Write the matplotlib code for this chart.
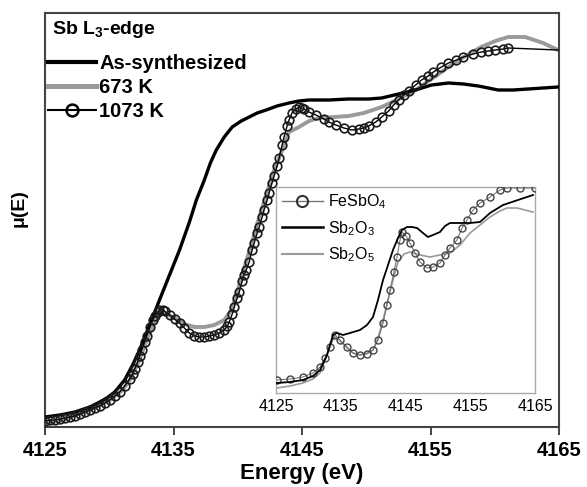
import matplotlib
matplotlib.use("Agg")
import matplotlib.pyplot as plt
from matplotlib.lines import Line2D

plt.rcParams['font.family'] = ['Liberation Sans', 'DejaVu Sans']
plt.rcParams['mathtext.fontset'] = 'custom'
plt.rcParams['mathtext.rm'] = 'Liberation Sans'
plt.rcParams['mathtext.it'] = 'Liberation Sans:italic'
plt.rcParams['mathtext.bf'] = 'Liberation Sans:bold'

# ---------------- main panel data (energy in eV, mu in arb. units) ----------------
e_as = [4125.00, 4126.16, 4127.33, 4128.49, 4129.26, 4129.81, 4130.43, 4131.20, 4131.82,
        4132.36, 4133.14, 4133.91, 4134.69, 4135.47, 4136.24, 4136.78, 4137.40, 4137.87,
        4138.33, 4138.95, 4139.57, 4140.27, 4140.89, 4141.51, 4142.21, 4143.06, 4143.99,
        4144.77, 4145.54, 4147.09, 4148.64, 4150.19, 4151.20, 4152.52, 4153.84, 4155.08,
        4156.40, 4157.56, 4158.72, 4160.27, 4161.43, 4162.60, 4163.76, 4164.92]
mu_as = [0.10, 0.12, 0.15, 0.20, 0.25, 0.29, 0.35, 0.47, 0.62,
         0.77, 1.02, 1.27, 1.52, 1.77, 2.05, 2.27, 2.47, 2.64,
         2.77, 2.90, 3.00, 3.06, 3.10, 3.14, 3.17, 3.21, 3.24,
         3.26, 3.27, 3.27, 3.28, 3.28, 3.29, 3.33, 3.37, 3.42,
         3.44, 3.43, 3.41, 3.37, 3.37, 3.38, 3.39, 3.40]

e_673 = [4125.00, 4126.16, 4127.17, 4128.49, 4129.26, 4130.04, 4131.05, 4131.59, 4132.36,
         4132.91, 4133.37, 4133.76, 4134.07, 4134.46, 4135.08, 4135.85, 4136.63, 4137.40,
         4138.18, 4138.95, 4139.50, 4139.96, 4140.50, 4141.05, 4141.43, 4141.90, 4142.29,
         4142.75, 4143.22, 4143.99, 4144.77, 4145.54, 4146.32, 4147.48, 4148.64, 4149.81,
         4151.20, 4152.52, 4153.84, 4155.08, 4156.40, 4157.71, 4158.95, 4160.04, 4161.05,
         4162.36, 4163.76, 4164.92]
mu_673 = [0.04, 0.06, 0.11, 0.17, 0.22, 0.27, 0.37, 0.47, 0.67,
          0.87, 1.00, 1.12, 1.15, 1.13, 1.09, 1.03, 1.00, 1.00,
          1.02, 1.07, 1.17, 1.35, 1.59, 1.82, 2.00, 2.19, 2.35,
          2.54, 2.69, 2.95, 3.00, 3.06, 3.09, 3.10, 3.11, 3.14,
          3.20, 3.28, 3.37, 3.48, 3.60, 3.71, 3.80, 3.86, 3.90,
          3.90, 3.84, 3.77]

e_1073 = [4125.00, 4125.39, 4125.78, 4126.16, 4126.55, 4126.94, 4127.33, 4127.71, 4128.10,
          4128.49, 4128.88, 4129.26, 4129.65, 4130.04, 4130.43, 4130.81, 4131.20, 4131.59,
          4131.82, 4131.98, 4132.21, 4132.36, 4132.52, 4132.75, 4132.91, 4133.14, 4133.37,
          4133.53, 4133.76, 4133.91, 4134.15, 4134.30, 4134.69, 4135.08, 4135.47, 4135.85,
          4136.24, 4136.63, 4137.02, 4137.40, 4137.79, 4138.18, 4138.57, 4138.95, 4139.19,
          4139.34, 4139.57, 4139.73, 4139.96, 4140.12, 4140.35, 4140.50, 4140.66, 4140.89,
          4141.12, 4141.28, 4141.51, 4141.67, 4141.90, 4142.05, 4142.29, 4142.44, 4142.67,
          4142.83, 4143.06, 4143.22, 4143.45, 4143.60, 4143.84, 4143.99, 4144.22, 4144.53,
          4144.77, 4145.00, 4145.16, 4145.54, 4146.09, 4146.71, 4147.09, 4147.64, 4148.26,
          4148.88, 4149.42, 4149.81, 4150.19, 4150.74, 4151.20, 4151.74, 4152.13, 4152.52,
          4152.91, 4153.29, 4153.84, 4154.30, 4154.84, 4155.23, 4155.85, 4156.40, 4157.02,
          4157.56, 4158.33, 4158.95, 4159.50, 4160.04, 4160.66, 4161.05, 4164.92]
mu_1073 = [0.06, 0.07, 0.07, 0.08, 0.09, 0.10, 0.11, 0.13, 0.15,
           0.17, 0.19, 0.21, 0.24, 0.27, 0.31, 0.35, 0.41, 0.48,
           0.53, 0.58, 0.65, 0.71, 0.77, 0.85, 0.91, 1.00, 1.07,
           1.11, 1.15, 1.17, 1.17, 1.16, 1.12, 1.08, 1.04, 0.99,
           0.94, 0.91, 0.90, 0.90, 0.91, 0.92, 0.94, 0.97, 1.01,
           1.05, 1.13, 1.20, 1.29, 1.35, 1.46, 1.52, 1.57, 1.65,
           1.77, 1.84, 1.94, 2.00, 2.10, 2.17, 2.27, 2.34, 2.44,
           2.51, 2.61, 2.69, 2.82, 2.90, 3.01, 3.07, 3.14, 3.18,
           3.20, 3.19, 3.18, 3.15, 3.12, 3.08, 3.05, 3.02, 2.99,
           2.97, 2.98, 2.99, 3.01, 3.05, 3.10, 3.16, 3.22, 3.27,
           3.32, 3.36, 3.42, 3.47, 3.51, 3.55, 3.60, 3.64, 3.67,
           3.70, 3.73, 3.75, 3.76, 3.77, 3.78, 3.79, 3.77]

# ---------------- inset data (reference compounds) ----------------
e_fesbo4 = [4125.15, 4127.16, 4129.17, 4130.71, 4131.80, 4132.57, 4133.34, 4134.11, 4134.88,
            4135.97, 4136.89, 4137.97, 4139.05, 4139.98, 4140.75, 4141.53, 4142.14, 4142.61,
            4143.22, 4143.69, 4144.15, 4144.46, 4145.08, 4145.69, 4146.47, 4147.24, 4148.32,
            4149.25, 4150.33, 4151.10, 4151.87, 4152.95, 4153.73, 4154.50, 4155.42, 4156.51,
            4158.05, 4159.59, 4160.68, 4162.68, 4165.00]
mu_fesbo4 = [0.13, 0.14, 0.16, 0.20, 0.26, 0.35, 0.46, 0.58, 0.53,
             0.46, 0.40, 0.38, 0.39, 0.43, 0.53, 0.70, 0.88, 1.03,
             1.21, 1.36, 1.53, 1.61, 1.57, 1.50, 1.40, 1.31, 1.25,
             1.26, 1.30, 1.38, 1.45, 1.53, 1.65, 1.73, 1.83, 1.90,
             1.96, 2.03, 2.05, 2.05, 2.05]

e_sb2o3 = [4125.15, 4127.16, 4129.17, 4130.71, 4131.80, 4132.88, 4133.80, 4134.42, 4135.35,
           4136.43, 4137.97, 4139.05, 4139.98, 4140.75, 4141.53, 4142.30, 4143.07, 4143.84,
           4144.46, 4145.23, 4146.00, 4146.78, 4147.70, 4148.47, 4149.25, 4150.33, 4151.10,
           4151.87, 4153.42, 4154.96, 4156.51, 4158.05, 4160.06, 4162.37, 4164.69]
mu_sb2o3 = [0.10, 0.11, 0.13, 0.17, 0.23, 0.38, 0.58, 0.60, 0.58,
            0.60, 0.63, 0.68, 0.76, 0.93, 1.13, 1.28, 1.43, 1.55,
            1.63, 1.66, 1.66, 1.65, 1.60, 1.56, 1.58, 1.61, 1.67,
            1.70, 1.70, 1.70, 1.71, 1.80, 1.88, 1.93, 1.98]

e_sb2o5 = [4125.15, 4127.16, 4129.17, 4130.71, 4131.80, 4132.88, 4133.65, 4134.11, 4134.88,
           4135.97, 4136.89, 4137.97, 4139.05, 4139.98, 4140.75, 4141.53, 4142.30, 4143.07,
           4143.84, 4144.77, 4145.69, 4147.24, 4148.78, 4150.33, 4151.87, 4153.42, 4154.96,
           4156.51, 4158.05, 4159.59, 4160.68, 4162.22, 4163.46, 4164.69]
mu_sb2o5 = [0.05, 0.07, 0.10, 0.14, 0.20, 0.38, 0.53, 0.56, 0.52,
            0.45, 0.40, 0.38, 0.40, 0.43, 0.55, 0.73, 0.93, 1.13,
            1.31, 1.39, 1.41, 1.38, 1.36, 1.38, 1.40, 1.48, 1.60,
            1.68, 1.76, 1.82, 1.85, 1.85, 1.83, 1.81]

x_ticks = [4125, 4135, 4145, 4155, 4165]
edge_title = 'Sb L$_\\mathbf{3}$-edge'
main_labels = ['As-synthesized', '673 K', '1073 K']
inset_labels = ['FeSbO$_4$', 'Sb$_2$O$_3$', 'Sb$_2$O$_5$']

# ---------------- figure ----------------
W, H = 587, 487
fig = plt.figure(figsize=(W / 100, H / 100), dpi=100)
fig.patch.set_facecolor('white')

ax = fig.add_axes([45 / W, (H - 427) / H, 514 / W, 414 / H])
ax.plot(e_as, mu_as, color='black', lw=2.4, zorder=3)
ax.plot(e_673, mu_673, color='#9a9a9a', lw=2.8, zorder=2)
ax.plot(e_1073, mu_1073, color='black', lw=1.0, marker='o', ms=6.2,
        mfc='none', mec='#1a1a1a', mew=1.2, markevery=slice(0, len(e_1073) - 1), zorder=4)

ax.set_xlim(4125, 4165)
ax.set_ylim(0, 4.14)
ax.set_xticks(x_ticks)
ax.set_xticklabels([str(t) for t in x_ticks], fontweight='bold', fontsize=14.5)
ax.set_yticks([])
ax.tick_params(axis='x', direction='out', length=6, width=1.4, color='#444444', pad=4)
for s in ax.spines.values():
    s.set_color('#444444')
    s.set_linewidth(1.5)
ax.set_xlabel('Energy (eV)', fontsize=16, fontweight='bold', labelpad=2)
ax.set_ylabel('μ(E)', fontsize=14, fontweight='bold')
ax.yaxis.set_label_coords(-0.033, 0.53)

ax.text(7 / 514, 1 - 17 / 414, edge_title, transform=ax.transAxes, ha='left', va='center',
        fontsize=14, fontweight='bold')

handles = [Line2D([], [], color='black', lw=3.0),
           Line2D([], [], color='#9a9a9a', lw=3.6),
           Line2D([], [], color='black', lw=1.5, marker='o', ms=8.5, mfc='none',
                  mec='black', mew=1.8)]
ax.legend(handles, main_labels, loc='upper left', bbox_to_anchor=(3 / 514, 1 - 41 / 414),
          frameon=False, prop={'weight': 'bold', 'size': 14.5}, handlelength=2.4,
          handletextpad=0.15, labelspacing=0.24, borderpad=0.0, borderaxespad=0.0,
          numpoints=1)

# ---------------- inset ----------------
ins = fig.add_axes([276 / W, (H - 393) / H, 259 / W, 206 / H])
ins.plot(e_fesbo4, mu_fesbo4, color='#777777', lw=0.8, marker='o', ms=5, mfc='none',
         mec='#444444', mew=1.0, zorder=3)
ins.plot(e_sb2o3, mu_sb2o3, color='black', lw=1.3, zorder=4)
ins.plot(e_sb2o5, mu_sb2o5, color='#9a9a9a', lw=1.2, zorder=2)
ins.set_xlim(4125, 4165)
ins.set_ylim(0, 2.06)
ins.set_xticks(x_ticks)
ins.set_xticklabels([str(t) for t in x_ticks], fontsize=11.5)
ins.set_yticks([])
ins.tick_params(axis='x', length=0, pad=4)
for s in ins.spines.values():
    s.set_color('#aaaaaa')
    s.set_linewidth(1.0)

ih = [Line2D([], [], color='#777777', lw=1.0, marker='o', ms=8, mfc='none', mec='#333333', mew=1.5),
      Line2D([], [], color='black', lw=1.8),
      Line2D([], [], color='#9a9a9a', lw=1.5)]
ins.legend(ih, inset_labels, loc='upper left', bbox_to_anchor=(0.022, 0.975), frameon=False,
           prop={'size': 11.5}, handlelength=2.6, handletextpad=0.3, labelspacing=0.5,
           borderpad=0.0, borderaxespad=0.0, numpoints=1)

fig.savefig('out.png', dpi=100, facecolor='white')
